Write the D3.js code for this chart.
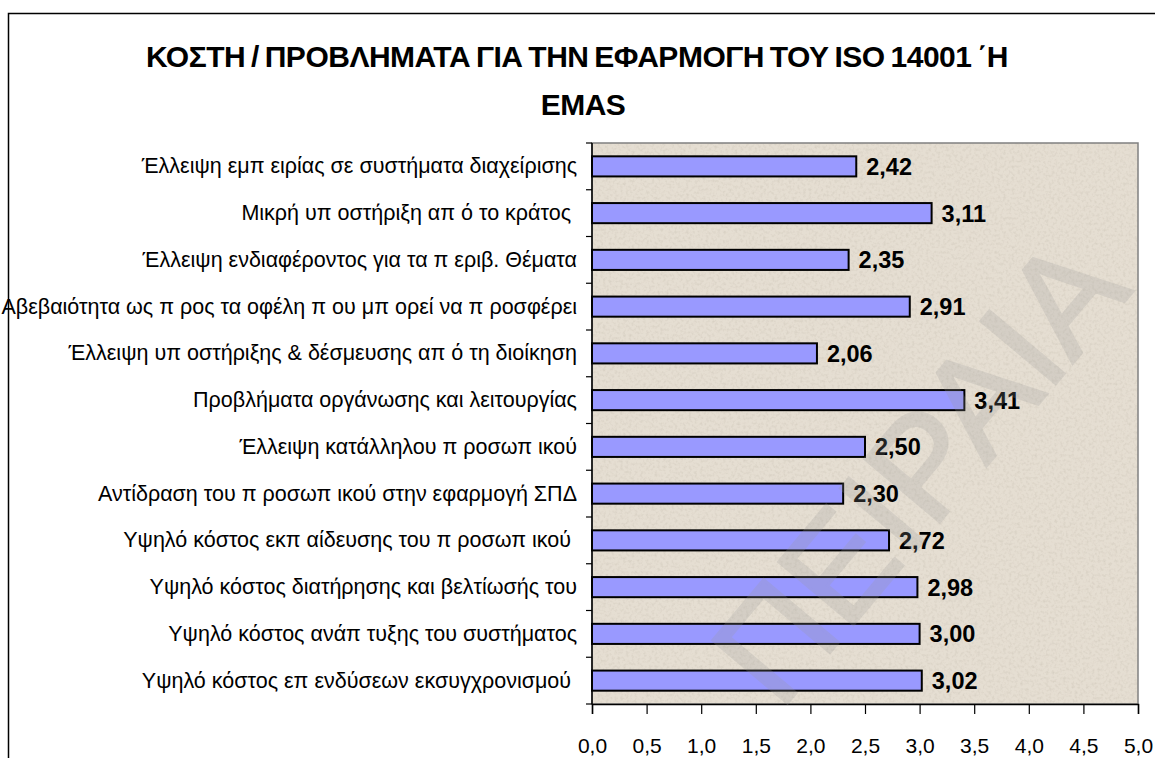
<!DOCTYPE html>
<html>
<head>
<meta charset="utf-8">
<script src="https://cdn.jsdelivr.net/npm/d3@7"></script>
<style>
  body { margin: 0; background: #fff; }
  svg { display: block; font-family: Arial, "Liberation Sans", sans-serif; }
</style>
</head>
<body>
<div class="bar-chart"></div>
<script>
// data, top to bottom
const categories = [
  'Έλλειψη εμπ ειρίας σε συστήματα διαχείρισης',
  'Μικρή υπ οστήριξη απ ό το κράτος ',
  'Έλλειψη ενδιαφέροντος για τα π εριβ. Θέματα',
  'Αβεβαιότητα ως π ρος τα οφέλη π ου μπ ορεί να π ροσφέρει',
  'Έλλειψη υπ οστήριξης & δέσμευσης απ ό τη διοίκηση',
  'Προβλήματα οργάνωσης και λειτουργίας',
  'Έλλειψη κατάλληλου π ροσωπ ικού',
  'Αντίδραση του π ροσωπ ικού στην εφαρμογή ΣΠΔ',
  'Υψηλό κόστος εκπ αίδευσης του π ροσωπ ικού ',
  'Υψηλό κόστος διατήρησης και βελτίωσής του',
  'Υψηλό κόστος ανάπ τυξης του συστήματος',
  'Υψηλό κόστος επ ενδύσεων εκσυγχρονισμού '
];
const values = [2.42, 3.11, 2.35, 2.91, 2.06, 3.41, 2.50, 2.30, 2.72, 2.98, 3.00, 3.02];
const xTicks = [0, 0.5, 1, 1.5, 2, 2.5, 3, 3.5, 4, 4.5, 5];
const titleLines = ['ΚΟΣΤΗ / ΠΡΟΒΛΗΜΑΤΑ ΓΙΑ ΤΗΝ ΕΦΑΡΜΟΓΗ ΤΟΥ ISO 14001 ΄Η', 'EMAS'];
const watermark = 'ΠΕΙΡΑΙΑ';

const W = 1155, H = 758;
const margin = { top: 143, right: 17, bottom: 54, left: 592 };
const width = W - margin.left - margin.right,
  height = H - margin.top - margin.bottom;

const comma = v => d3.format('.2f')(v).replace('.', ',');
const comma1 = v => d3.format('.1f')(v).replace('.', ',');

const svg = d3.select('.bar-chart').append('svg')
  .attr('width', W).attr('height', H);

// speckled paper look for the plot area
const flt = svg.append('defs').append('filter').attr('id', 'paper')
  .attr('x', 0).attr('y', 0).attr('width', 1).attr('height', 1);
flt.append('feTurbulence').attr('type', 'fractalNoise')
  .attr('baseFrequency', 0.35).attr('numOctaves', 2).attr('seed', 3).attr('result', 'n');
flt.append('feColorMatrix').attr('in', 'n').attr('type', 'matrix')
  .attr('values', '0 0 0 0 0.55  0 0 0 0 0.5  0 0 0 0 0.42  0 0 0 -0.9 0.5')
  .attr('result', 'c');
flt.append('feComposite').attr('in', 'c').attr('in2', 'SourceGraphic').attr('operator', 'in').attr('result', 's');
flt.append('feMerge').call(m => {
  m.append('feMergeNode').attr('in', 'SourceGraphic');
  m.append('feMergeNode').attr('in', 's');
});

// outer chart frame (runs off the right and bottom edges)
svg.append('path')
  .attr('d', 'M8.5,' + (H + 5) + 'V13.5H' + (W + 5))
  .attr('fill', 'none').attr('stroke', '#000').attr('stroke-width', 1.5);

// title
const title = svg.append('g').selectAll('text')
  .data(titleLines)
  .enter().append('text')
  .attr('x', (d, i) => i ? 583 : 577)
  .attr('y', (d, i) => 67 + i * 48)
  .attr('text-anchor', 'middle')
  .attr('font-size', 30)
  .attr('font-weight', 'bold')
  .attr('word-spacing', -2)
  .text(d => d);
// tighten the lines to the reference width
let spacing = 0;
title.filter((d, i) => i === 0).each(function (d) {
  const len = this.getComputedTextLength();
  spacing = (862 - len) / d.length;
});
title.attr('letter-spacing', spacing);

const x = d3.scaleLinear().domain([0, 5]).range([0, width]);
const pad = 0.57;
const y = d3.scaleBand().domain(categories).range([0, height])
  .paddingInner(pad).paddingOuter(pad / 2);

const g = svg.append('g')
  .attr('transform', 'translate(' + margin.left + ',' + margin.top + ')');

// plot area
g.append('rect')
  .attr('width', width).attr('height', height)
  .attr('fill', '#e5ded2')
  .attr('filter', 'url(#paper)');
g.append('rect')
  .attr('width', width).attr('height', height)
  .attr('fill', 'none')
  .attr('stroke', '#808080').attr('stroke-width', 1.5);

// category labels
g.append('g')
  .call(d3.axisLeft(y).tickSize(0).tickPadding(15))
  .call(a => a.select('.domain').remove())
  .selectAll('text')
  .attr('font-size', 21.5)
  .attr('fill', '#000')
  .style('white-space', 'pre')
  .attr('font-family', 'Arial, "Liberation Sans", sans-serif');

// tick marks between categories
const bounds = d3.range(categories.length + 1).map(i => i * y.step());
g.append('g').selectAll('line')
  .data(bounds)
  .enter().append('line')
  .attr('x1', -6).attr('x2', 0)
  .attr('y1', d => d).attr('y2', d => d)
  .attr('stroke', '#000').attr('stroke-width', 1.2);
g.append('line')
  .attr('x1', 0).attr('x2', 0).attr('y1', 0).attr('y2', height)
  .attr('stroke', '#000').attr('stroke-width', 1.5);

// x axis
const xa = g.append('g')
  .attr('transform', 'translate(0,' + height + ')')
  .call(d3.axisBottom(x).tickValues(xTicks).tickFormat(comma1).tickSize(10).tickPadding(24));
xa.select('.domain').attr('stroke', '#000').attr('stroke-width', 1.5);
xa.selectAll('.tick line').attr('stroke', '#000').attr('stroke-width', 1.2);
xa.selectAll('text').attr('font-size', 21).attr('fill', '#000')
  .attr('font-family', 'Arial, "Liberation Sans", sans-serif');

// bars
g.selectAll('.bar')
  .data(values)
  .enter().append('rect')
  .attr('class', 'bar')
  .attr('x', 0)
  .attr('y', (d, i) => y(categories[i]))
  .attr('width', d => x(d))
  .attr('height', y.bandwidth())
  .attr('fill', '#9999ff')
  .attr('stroke', '#000')
  .attr('stroke-width', 2);

// value labels
g.selectAll('.val')
  .data(values)
  .enter().append('text')
  .attr('class', 'val')
  .attr('x', d => x(d) + 10)
  .attr('y', (d, i) => y(categories[i]) + y.bandwidth() / 2)
  .attr('dy', '0.36em')
  .attr('font-size', 23.5)
  .attr('font-weight', 'bold')
  .text(comma);

// faint diagonal watermark over the chart
svg.append('text')
  .attr('transform', 'translate(780,712) rotate(-50)')
  .attr('font-size', 142)
  .attr('fill', '#999')
  .attr('stroke', '#999')
  .attr('stroke-width', 3)
  .attr('opacity', 0.22)
  .text(watermark);
</script>
</body>
</html>
